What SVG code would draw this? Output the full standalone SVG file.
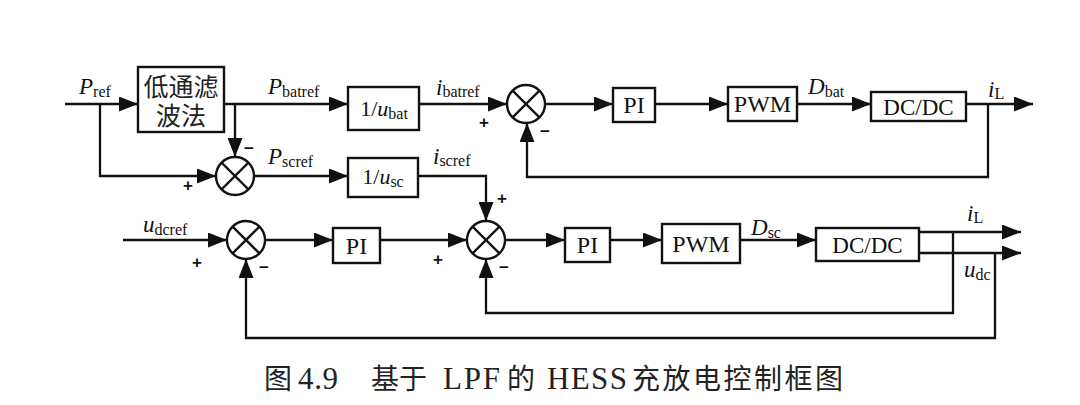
<svg xmlns="http://www.w3.org/2000/svg" width="1080" height="405" viewBox="0 0 1080 405">
<defs>
<style>
.w{fill:none;stroke:#111;stroke-width:2.3}
.a{marker-end:url(#ah)}
.b{fill:#fff;stroke:#111;stroke-width:2.4}
.t{font-family:"Liberation Serif","Times New Roman",serif;fill:#111}
.i{font-style:italic}
.s{font-size:16px;font-style:normal}
.sg{font-family:"Liberation Sans",Arial,sans-serif;font-weight:bold;font-size:17px;fill:#111}
.cj{font-family:"Liberation Serif","Noto Sans CJK SC",serif;fill:#222}
</style>
<marker id="ah" viewBox="0 0 19 15" refX="19" refY="7.5" markerWidth="19" markerHeight="15" orient="auto" markerUnits="userSpaceOnUse"><path d="M0,0 L19,7.5 L0,15 z" fill="#111"/></marker>
<g id="sum"><circle r="19" class="b"/><path d="M-13.4,-13.4 L13.4,13.4 M13.4,-13.4 L-13.4,13.4" class="w"/></g>
</defs>
<rect width="1080" height="405" fill="#fff"/>
<g id="connectors">
<path class="w a" d="M65,104 H138"/>
<path class="w a" d="M100,104 V176 H216"/>
<path class="w a" d="M224,104 H348"/>
<path class="w a" d="M235,104 V157"/>
<path class="w a" d="M419,104 H507"/>
<path class="w a" d="M545,104 H613"/>
<path class="w a" d="M655,104 H728"/>
<path class="w a" d="M797,104 H871"/>
<path class="w a" d="M966,104 H1033"/>
<path class="w a" d="M988,104 V177 H527 V123"/>
<path class="w a" d="M254,176 H348"/>
<path class="w a" d="M418,176 H486 V221"/>
<path class="w a" d="M123,240 H227"/>
<path class="w a" d="M265,240 H333"/>
<path class="w a" d="M380,240 H467"/>
<path class="w a" d="M505,240 H565"/>
<path class="w a" d="M610,240 H662"/>
<path class="w a" d="M740,240 H816"/>
<path class="w a" d="M919,232 H1021"/>
<path class="w a" d="M919,253 H1021"/>
<path class="w a" d="M953,232 V313 H486 V259"/>
<path class="w a" d="M995,253 V338 H246 V259"/>
</g>
<g id="lpf"><rect class="b" x="138" y="67" width="86" height="65"/>
<text class="cj" x="181" y="96" font-size="25" text-anchor="middle">低通滤</text>
<text class="cj" x="181" y="125" font-size="25" text-anchor="middle">波法</text></g>
<g id="ubat"><rect class="b" x="348" y="87" width="71" height="43"/>
<text class="t" x="384" y="116" font-size="22" text-anchor="middle">1/<tspan class="i">u</tspan><tspan class="s" font-size="15" dy="3">bat</tspan></text></g>
<g id="usc"><rect class="b" x="348" y="158" width="70" height="39"/>
<text class="t" x="383" y="184" font-size="22" text-anchor="middle">1/<tspan class="i">u</tspan><tspan class="s" font-size="15" dy="3">sc</tspan></text></g>
<g id="sum1"><use href="#sum" x="235" y="176"/></g>
<g id="sum2"><use href="#sum" x="526" y="104"/></g>
<g id="sum3"><use href="#sum" x="246" y="240"/></g>
<g id="sum4"><use href="#sum" x="486" y="240"/></g>
<g id="pi1"><rect class="b" x="613" y="88" width="42" height="34"/><text class="t" x="634" y="113" font-size="24" text-anchor="middle">PI</text></g>
<g id="pwm1"><rect class="b" x="728" y="87" width="69" height="34"/><text class="t" x="762.5" y="112" font-size="24" text-anchor="middle">PWM</text></g>
<g id="dcdc1"><rect class="b" x="871" y="92" width="95" height="29"/><text class="t" x="918.5" y="114.5" font-size="23" text-anchor="middle">DC/DC</text></g>
<g id="pi2"><rect class="b" x="333" y="228" width="47" height="35"/><text class="t" x="356.5" y="253.5" font-size="24" text-anchor="middle">PI</text></g>
<g id="pi3"><rect class="b" x="565" y="228" width="45" height="34"/><text class="t" x="587.5" y="253" font-size="24" text-anchor="middle">PI</text></g>
<g id="pwm2"><rect class="b" x="662" y="224" width="78" height="39"/><text class="t" x="701" y="251.5" font-size="24" text-anchor="middle">PWM</text></g>
<g id="dcdc2"><rect class="b" x="816" y="228" width="103" height="33"/><text class="t" x="867.5" y="252.5" font-size="23" text-anchor="middle">DC/DC</text></g>
<g id="labels">
<text class="t" x="79" y="94" font-size="23"><tspan class="i">P</tspan><tspan class="s" dy="3">ref</tspan></text>
<text class="t" x="268" y="94" font-size="23"><tspan class="i">P</tspan><tspan class="s" dy="3">batref</tspan></text>
<text class="t" x="436" y="95" font-size="23"><tspan class="i">i</tspan><tspan class="s" dy="2">batref</tspan></text>
<text class="t" x="808" y="94" font-size="23"><tspan class="i">D</tspan><tspan class="s" dy="3">bat</tspan></text>
<text class="t" x="988" y="97" font-size="23"><tspan class="i">i</tspan><tspan class="s" dy="2">L</tspan></text>
<text class="t" x="268" y="164" font-size="23"><tspan class="i">P</tspan><tspan class="s" dy="3">scref</tspan></text>
<text class="t" x="433" y="164" font-size="23"><tspan class="i">i</tspan><tspan class="s" dy="2">scref</tspan></text>
<text class="t" x="143" y="232" font-size="23"><tspan class="i">u</tspan><tspan class="s" dy="3">dcref</tspan></text>
<text class="t" x="751" y="235" font-size="23"><tspan class="i">D</tspan><tspan class="s" dy="3">sc</tspan></text>
<text class="t" x="967" y="221" font-size="23"><tspan class="i">i</tspan><tspan class="s" dy="2">L</tspan></text>
<text class="t" x="964" y="277" font-size="23"><tspan class="i">u</tspan><tspan class="s" dy="3">dc</tspan></text>
</g>
<g id="signs">
<text class="sg" x="183" y="191">+</text>
<text class="sg" x="244" y="154">−</text>
<text class="sg" x="479" y="128">+</text>
<text class="sg" x="540" y="137">−</text>
<text class="sg" x="192" y="268">+</text>
<text class="sg" x="259" y="273">−</text>
<text class="sg" x="433" y="265">+</text>
<text class="sg" x="497" y="204">+</text>
<text class="sg" x="499" y="273">−</text>
</g>
<g id="caption" class="cj" font-size="28">
<text x="264" y="389">图</text>
<text x="298" y="389" font-size="31" textLength="40" lengthAdjust="spacing">4.9</text>
<text x="371" y="389">基于</text>
<text x="443" y="389" font-size="31" textLength="57" lengthAdjust="spacing">LPF</text>
<text x="507" y="389">的</text>
<text x="547" y="389" font-size="31" textLength="80" lengthAdjust="spacing">HESS</text>
<text x="632" y="389" textLength="211" lengthAdjust="spacing">充放电控制框图</text>
</g>
</svg>
